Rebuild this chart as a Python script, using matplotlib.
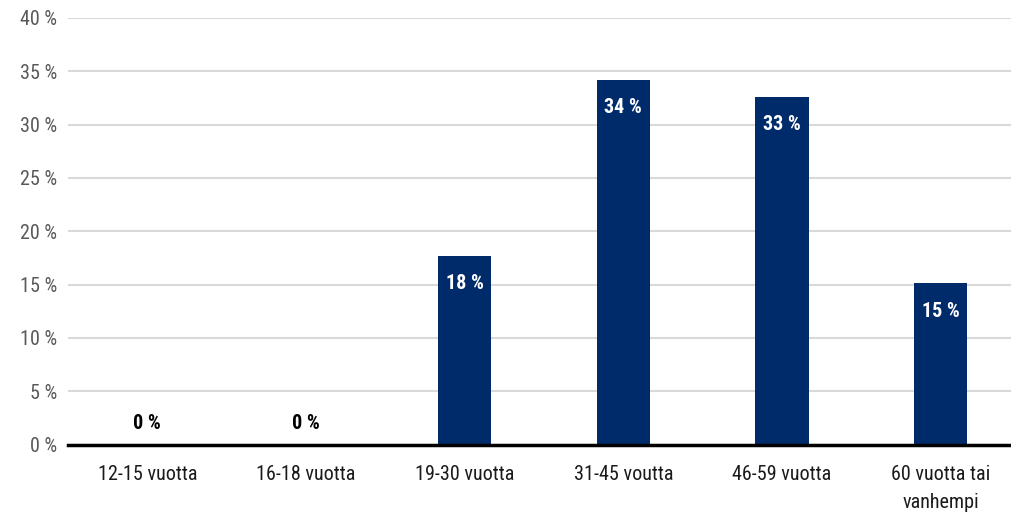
import matplotlib
matplotlib.use("Agg")
import matplotlib.pyplot as plt
from matplotlib import font_manager as fm

categories = ["12-15 vuotta", "16-18 vuotta", "19-30 vuotta", "31-45 voutta", "46-59 vuotta", "60 vuotta tai\nvanhempi"]
values = [0, 0, 17.7, 34.2, 32.6, 15.1]
yticks = [0, 5, 10, 15, 20, 25, 30, 35, 40]

names = {f.name for f in fm.fontManager.ttflist}
family = "DejaVu Sans"
for cand in ["Liberation Sans Narrow", "DejaVu Sans Condensed", "Roboto Condensed", "Open Sans Condensed"]:
    if cand in names:
        family = cand
        break
plt.rcParams["font.family"] = [family, "DejaVu Sans"]

fig = plt.figure(figsize=(10.11, 5.17), dpi=100)
ax = fig.add_axes([68/1011, 1-444.5/517, 1-68/1011, (444.5-18)/517])

bar_color = "#002B6B"
x = list(range(len(categories)))
ax.bar(x, values, width=0.335, color=bar_color, zorder=3)

ax.set_ylim(0, 40)
ax.set_xlim(-0.5, 5.5 - (1020-1011)/158.7)
ax.set_yticks(yticks)
ax.set_yticklabels([f"{v} %" for v in yticks], color="#595959", fontsize=14.5)
ax.set_xticks(x)
ax.set_xticklabels(categories, fontsize=14.5, color="#1a1a1a", linespacing=1.6)
ax.tick_params(axis="both", length=0)
ax.tick_params(axis="y", pad=8)
ax.tick_params(axis="x", pad=15)
for lbl in ax.get_xticklabels():
    lbl.set_verticalalignment("top")

ax.grid(axis="y", color="#d9d9d9", linewidth=1.5, zorder=0)
ax.set_axisbelow(True)
for s in ["top", "right", "left"]:
    ax.spines[s].set_visible(False)
ax.spines["bottom"].set_linewidth(2.5)
ax.spines["bottom"].set_color("black")
ax.spines["bottom"].set_zorder(4)

for xi, v in zip(x, values):
    lab = f"{round(v):d} %"
    if v < 3:
        ax.annotate(lab, (xi, v), xytext=(0, 15), textcoords="offset points",
                    ha="center", va="center", fontsize=14.5, fontweight="bold", color="black")
    else:
        ax.annotate(lab, (xi, v), xytext=(0, -20), textcoords="offset points",
                    ha="center", va="center", fontsize=14.5, fontweight="bold", color="white", zorder=5)

fig.savefig("out.png", dpi=100)
